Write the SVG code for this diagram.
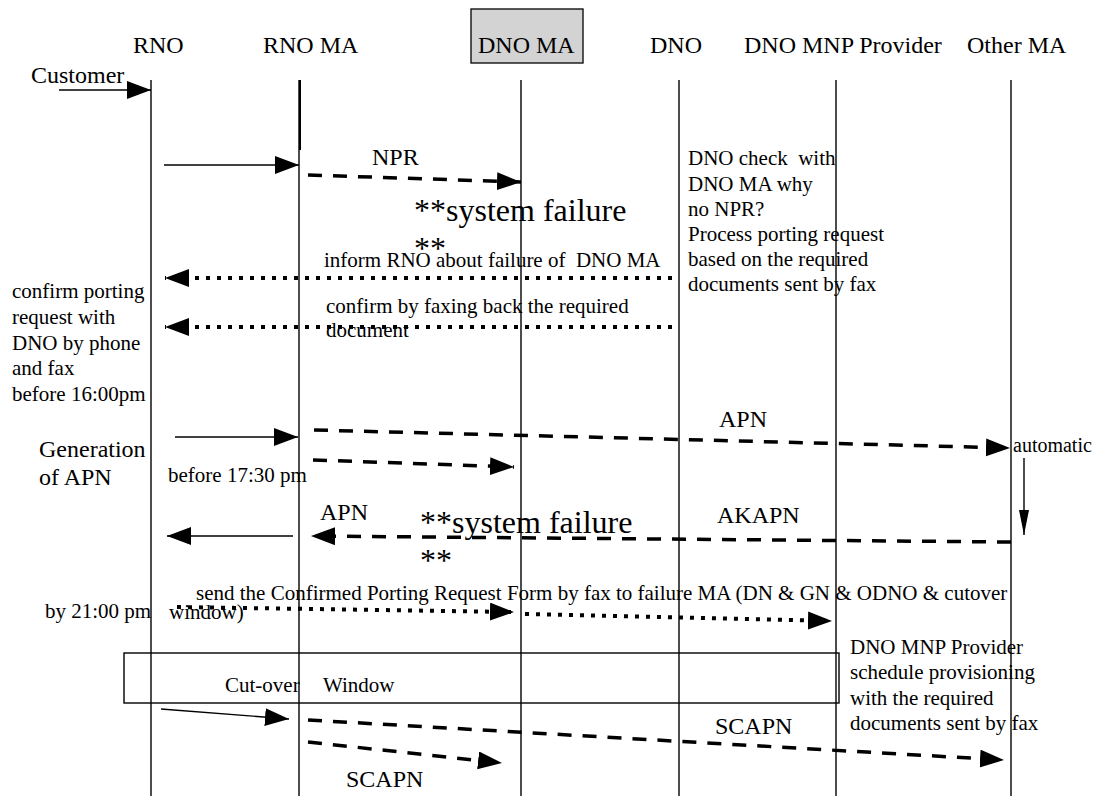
<svg xmlns="http://www.w3.org/2000/svg" width="1104" height="796" viewBox="0 0 1104 796" xml:space="preserve">
<style>
  text { font-family: "Liberation Serif", "Times New Roman", serif; fill: #000; white-space: pre; }
  .hd { font-size: 24px; }
  .lb { font-size: 24px; }
  .tx { font-size: 21px; }
  .big { font-size: 32px; }
  .life { stroke: #000; stroke-width: 1.4; fill: none; }
  .solid { stroke: #000; stroke-width: 1.4; fill: none; }
  .dash { stroke: #000; stroke-width: 3.5; fill: none; stroke-dasharray: 14 11; }
  .dot { stroke: #000; stroke-width: 4; fill: none; stroke-dasharray: 4 7; }
</style>
<defs>
  <marker id="ah" markerUnits="userSpaceOnUse" markerWidth="26" markerHeight="20" refX="24" refY="9" orient="auto">
    <path d="M0,0 L24,9 L0,18 z" fill="#000"/>
  </marker>
  <marker id="ahn" markerUnits="userSpaceOnUse" markerWidth="26" markerHeight="12" refX="25" refY="5" orient="auto">
    <path d="M0,0 L25,5 L0,10 z" fill="#000"/>
  </marker>
</defs>
<rect width="1104" height="796" fill="#fff"/>

<g id="node-rno">
  <text class="hd" x="133" y="53">RNO</text>
  <line class="life" x1="151" y1="80" x2="151" y2="796"/>
</g>
<g id="node-rno-ma">
  <text class="hd" x="263" y="53">RNO MA</text>
  <line class="life" x1="299" y1="80" x2="299" y2="796"/>
  <line x1="300" y1="80" x2="300" y2="150" stroke="#000" stroke-width="2"/>
</g>
<g id="node-dno-ma">
  <rect x="471" y="9" width="112" height="54" fill="#d3d3d3" stroke="#000" stroke-width="1.3"/>
  <text class="hd" x="478" y="53">DNO MA</text>
  <line class="life" x1="521" y1="80" x2="521" y2="796"/>
</g>
<g id="node-dno">
  <text class="hd" x="650" y="53">DNO</text>
  <line class="life" x1="679" y1="80" x2="679" y2="796"/>
</g>
<g id="node-dno-mnp">
  <text class="hd" x="744" y="53">DNO MNP Provider</text>
  <line class="life" x1="836" y1="80" x2="836" y2="796"/>
</g>
<g id="node-other-ma">
  <text class="hd" x="967" y="53">Other MA</text>
  <line class="life" x1="1011" y1="80" x2="1011" y2="796"/>
</g>

<g id="cutover-window">
  <rect x="124" y="653" width="715" height="50" fill="none" stroke="#000" stroke-width="1.4"/>
  <text class="tx" y="692"><tspan x="225">Cut-over</tspan><tspan x="323">Window</tspan></text>
</g>

<g id="connectors">
  <line class="solid" x1="59" y1="90" x2="151" y2="90" marker-end="url(#ah)"/>
  <line class="solid" x1="164" y1="165" x2="299" y2="165" marker-end="url(#ah)"/>
  <line class="dash" x1="308" y1="175" x2="521" y2="182" marker-end="url(#ah)"/>
  <line class="dot" x1="672" y1="278" x2="165" y2="278" marker-end="url(#ah)"/>
  <line class="dot" x1="672" y1="327" x2="165" y2="327" marker-end="url(#ah)"/>
  <line class="solid" x1="175" y1="437" x2="298" y2="437" marker-end="url(#ah)"/>
  <line class="dash" x1="314" y1="430" x2="1010" y2="448" marker-end="url(#ah)"/>
  <line class="dash" x1="313" y1="460" x2="514" y2="467" marker-end="url(#ah)"/>
  <line class="solid" x1="1024" y1="458" x2="1024" y2="535" marker-end="url(#ahn)"/>
  <line class="solid" x1="293" y1="536" x2="167" y2="536" marker-end="url(#ah)"/>
  <line class="dash" x1="1011" y1="542" x2="311" y2="536" marker-end="url(#ah)"/>
  <line class="dot" x1="177" y1="607" x2="514" y2="612" marker-end="url(#ah)"/>
  <line class="dot" x1="525" y1="614" x2="832" y2="621" marker-end="url(#ah)"/>
  <line class="solid" x1="161" y1="709" x2="289" y2="719" marker-end="url(#ah)"/>
  <line class="dash" x1="308" y1="720" x2="1004" y2="760" marker-end="url(#ah)"/>
  <line class="dash" x1="308" y1="742" x2="502" y2="763" marker-end="url(#ah)"/>
</g>

<g id="labels">
  <text class="hd" x="31" y="83">Customer</text>
  <text class="lb" x="372" y="165">NPR</text>
  <text class="big" x="414" y="221">**system failure</text>
  <text class="big" x="414" y="259">**</text>
  <text class="tx" x="324" y="267">inform RNO about failure of  DNO MA</text>
  <text class="tx" x="326" y="313">confirm by faxing back the required</text>
  <text class="tx" x="326" y="337">document</text>
  <text class="tx" x="688"><tspan x="688" y="165">DNO check  with</tspan><tspan x="688" y="190.5">DNO MA why</tspan><tspan x="688" y="216">no NPR?</tspan><tspan x="688" y="241">Process porting request</tspan><tspan x="688" y="266">based on the required</tspan><tspan x="688" y="291">documents sent by fax</tspan></text>
  <text class="tx"><tspan x="12" y="298">confirm porting</tspan><tspan x="12" y="324">request with</tspan><tspan x="12" y="350">DNO by phone</tspan><tspan x="12" y="375">and fax</tspan><tspan x="12" y="401">before 16:00pm</tspan></text>
  <text class="lb"><tspan x="39" y="457">Generation</tspan><tspan x="39" y="485">of APN</tspan></text>
  <text class="tx" x="168" y="482">before 17:30 pm</text>
  <text class="lb" x="719" y="427">APN</text>
  <text class="tx" x="1013" y="452" style="font-size:20px">automatic</text>
  <text class="lb" x="320" y="520">APN</text>
  <text class="big" x="420" y="533">**system failure</text>
  <text class="big" x="420" y="571">**</text>
  <text class="lb" x="717" y="523">AKAPN</text>
  <text class="tx" x="196" y="600">send the Confirmed Porting Request Form by fax to failure MA (DN &amp; GN &amp; ODNO &amp; cutover</text>
  <text class="tx" x="169" y="619">window)</text>
  <text class="tx" x="45" y="618">by 21:00 pm</text>
  <text class="tx"><tspan x="850" y="654">DNO MNP Provider</tspan><tspan x="850" y="679">schedule provisioning</tspan><tspan x="850" y="705">with the required</tspan><tspan x="850" y="730">documents sent by fax</tspan></text>
  <text class="lb" x="715" y="734">SCAPN</text>
  <text class="lb" x="346" y="787">SCAPN</text>
</g>
</svg>
